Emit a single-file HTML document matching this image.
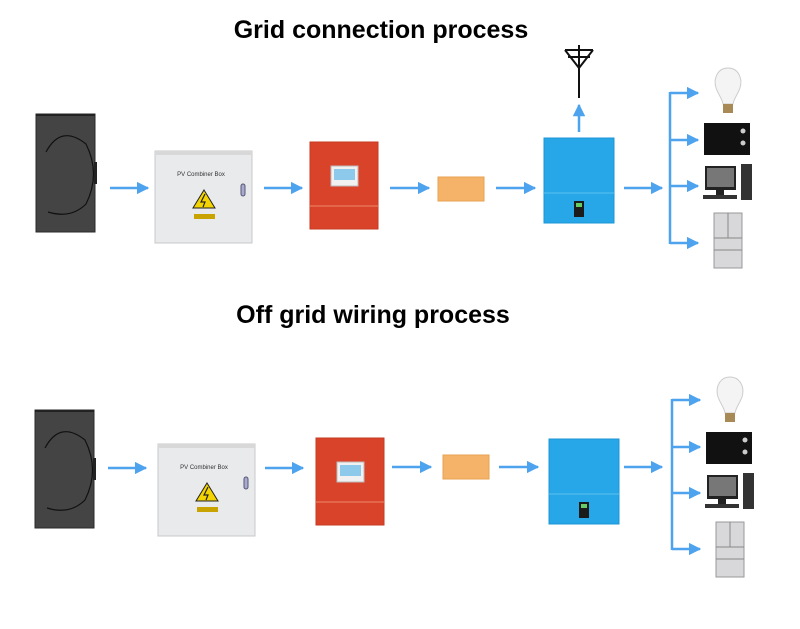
<!DOCTYPE html>
<html><head><meta charset="utf-8"><style>
html,body{margin:0;padding:0;background:#fff;width:800px;height:629px;overflow:hidden}
svg{display:block}
text{font-family:"Liberation Sans",sans-serif}
</style></head><body>
<svg width="800" height="629" viewBox="0 0 800 629">
<defs>
<marker id="ah" viewBox="0 0 10 10" refX="9" refY="5" markerWidth="5" markerHeight="5" orient="auto"><path d="M0,0L10,5L0,10z" fill="#4da3ee"/></marker>
<g id="panel">
<rect x="0" y="0" width="59" height="118" fill="#444" stroke="#2a2a2a"/>
<rect x="0" y="0" width="59" height="2" fill="#222"/>
<path d="M10,38 Q25,10 50,30 Q65,60 50,90 Q35,105 12,98" fill="none" stroke="#111" stroke-width="1.2"/>
<rect x="58" y="48" width="3" height="22" fill="#222"/>
</g>
<g id="combiner">
<rect x="0" y="0" width="97" height="92" fill="#e9eaec" stroke="#c8c8c8"/>
<rect x="0" y="0" width="97" height="4" fill="#d8d8d8"/>
<text x="46" y="25" font-size="6" text-anchor="middle" font-family="Liberation Serif,serif" fill="#333">PV Combiner Box</text>
<path d="M49,39 L60,57 L38,57z" fill="#f3d400" stroke="#222" stroke-width="1"/>
<path d="M50,43 L46,51 L50,51 L48,56" fill="none" stroke="#222" stroke-width="1.2"/>
<rect x="39" y="63" width="21" height="5" fill="#c9a400"/>
<rect x="86" y="33" width="4" height="12" rx="2" fill="#aac" stroke="#557"/>
</g>
<g id="red">
<rect x="0" y="0" width="68" height="87" fill="#d9432a" stroke="#c63a22"/>
<rect x="21" y="24" width="27" height="20" fill="#f1f1f1" stroke="#bbb"/>
<rect x="24" y="27" width="21" height="11" fill="#8cc9ea"/>
<line x1="0" y1="64" x2="68" y2="64" stroke="#ee8a6a" stroke-width="1"/>
</g>
<g id="bat">
<rect x="0" y="0" width="46" height="24" fill="#f5b36a" stroke="#e8a050"/>
</g>
<g id="blue">
<rect x="0" y="0" width="70" height="85" fill="#27a7e8" stroke="#1d95d4"/>
<line x1="0" y1="55" x2="70" y2="55" stroke="#5bc0f0"/>
<rect x="30" y="63" width="10" height="16" fill="#1b1b1b"/>
<rect x="32" y="65" width="6" height="4" fill="#6c6"/>
</g>
<g id="loads">
<path d="M28,0 C18,0 13,10 16,20 C19,28 22,30 23,36 L33,36 C34,30 37,28 40,20 C43,10 38,0 28,0z" fill="#f4f4f4" stroke="#ccc"/>
<rect x="23" y="36" width="10" height="9" fill="#a78a55"/>
<rect x="4" y="55" width="46" height="32" fill="#111"/>
<circle cx="43" cy="63" r="2.5" fill="#ccc"/><circle cx="43" cy="75" r="2.5" fill="#ccc"/>
<rect x="5" y="98" width="31" height="24" fill="#222"/><rect x="7" y="100" width="27" height="19" fill="#777"/>
<rect x="16" y="122" width="8" height="5" fill="#222"/><rect x="3" y="127" width="34" height="4" fill="#333"/>
<rect x="41" y="96" width="11" height="36" fill="#333"/>
<rect x="14" y="145" width="28" height="55" fill="#d8d8da" stroke="#999"/>
<line x1="28" y1="145" x2="28" y2="170" stroke="#888"/>
<line x1="14" y1="170" x2="42" y2="170" stroke="#888"/>
<line x1="14" y1="182" x2="42" y2="182" stroke="#888"/>
</g>
</defs>
<text x="381" y="38" font-size="25" font-weight="bold" text-anchor="middle" fill="#000">Grid connection process</text>
<text x="373" y="323" font-size="25" font-weight="bold" text-anchor="middle" fill="#000">Off grid wiring process</text>

<use href="#panel" x="36" y="114"/>
<use href="#combiner" x="155" y="151"/>
<use href="#red" x="310" y="142"/>
<use href="#bat" x="438" y="177"/>
<use href="#blue" x="544" y="138"/>
<use href="#loads" x="700" y="68"/>
<g stroke="#4da3ee" stroke-width="2.5" fill="none">
<line x1="110" y1="188" x2="148" y2="188" marker-end="url(#ah)"/>
<line x1="264" y1="188" x2="302" y2="188" marker-end="url(#ah)"/>
<line x1="390" y1="188" x2="429" y2="188" marker-end="url(#ah)"/>
<line x1="496" y1="188" x2="535" y2="188" marker-end="url(#ah)"/>
<line x1="624" y1="188" x2="662" y2="188" marker-end="url(#ah)"/>
<line x1="579" y1="132" x2="579" y2="105" marker-end="url(#ah)"/>
<line x1="670" y1="92" x2="670" y2="244"/>
<line x1="670" y1="93" x2="698" y2="93" marker-end="url(#ah)"/>
<line x1="670" y1="140" x2="698" y2="140" marker-end="url(#ah)"/>
<line x1="670" y1="186" x2="698" y2="186" marker-end="url(#ah)"/>
<line x1="670" y1="243" x2="698" y2="243" marker-end="url(#ah)"/>
</g>
<g stroke="#111" stroke-width="2" fill="none">
<line x1="579" y1="45" x2="579" y2="98"/>
<line x1="565" y1="50" x2="593" y2="50"/>
<line x1="568" y1="57" x2="590" y2="57"/>
<line x1="565" y1="50" x2="579" y2="68"/><line x1="593" y1="50" x2="579" y2="68"/>
</g>

<use href="#panel" x="35" y="410"/>
<use href="#combiner" x="158" y="444"/>
<use href="#red" x="316" y="438"/>
<use href="#bat" x="443" y="455"/>
<use href="#blue" x="549" y="439"/>
<use href="#loads" x="702" y="377"/>
<g stroke="#4da3ee" stroke-width="2.5" fill="none">
<line x1="108" y1="468" x2="146" y2="468" marker-end="url(#ah)"/>
<line x1="265" y1="468" x2="303" y2="468" marker-end="url(#ah)"/>
<line x1="392" y1="467" x2="431" y2="467" marker-end="url(#ah)"/>
<line x1="499" y1="467" x2="538" y2="467" marker-end="url(#ah)"/>
<line x1="624" y1="467" x2="662" y2="467" marker-end="url(#ah)"/>
<line x1="672" y1="399" x2="672" y2="550"/>
<line x1="672" y1="400" x2="700" y2="400" marker-end="url(#ah)"/>
<line x1="672" y1="447" x2="700" y2="447" marker-end="url(#ah)"/>
<line x1="672" y1="493" x2="700" y2="493" marker-end="url(#ah)"/>
<line x1="672" y1="549" x2="700" y2="549" marker-end="url(#ah)"/>
</g>
</svg>
</body></html>
